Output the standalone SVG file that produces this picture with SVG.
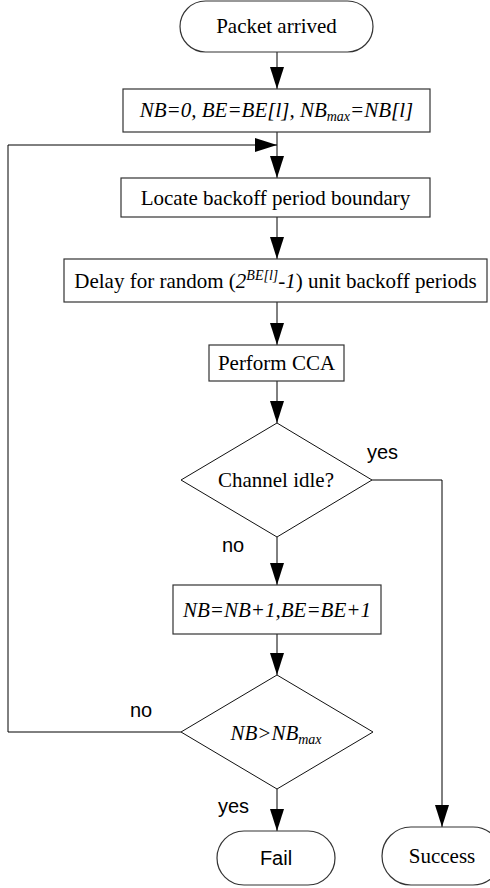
<svg xmlns="http://www.w3.org/2000/svg" width="490" height="888" viewBox="0 0 490 888">
  <defs>
    <marker id="arrow" markerUnits="userSpaceOnUse" markerWidth="22" markerHeight="14" refX="22" refY="7" orient="auto">
      <path d="M0,0 L22,7 L0,14 Z" fill="#000"/>
    </marker>
  </defs>
  <style>
    .box{fill:#fff;stroke:#333;stroke-width:1.2}
    .dia{fill:#fff;stroke:#111;stroke-width:1}
    .t{font-family:"Liberation Serif","Times New Roman",serif;font-size:21px;fill:#000;text-anchor:middle}
    .i{font-style:italic}
    .lbl{font-family:"Liberation Sans",Arial,sans-serif;font-size:20px;fill:#000}
    .ln{fill:none;stroke:#000;stroke-width:1}
  </style>
  <rect width="490" height="888" fill="#fff"/>

  <!-- connectors -->
  <g id="connectors">
    <line class="ln" x1="277" y1="52" x2="277" y2="89" marker-end="url(#arrow)"/>
    <line class="ln" x1="277" y1="132" x2="277" y2="178" marker-end="url(#arrow)"/>
    <polyline class="ln" points="181,732 8,732 8,145 277,145" marker-end="url(#arrow)"/>
    <line class="ln" x1="277" y1="217" x2="277" y2="259" marker-end="url(#arrow)"/>
    <line class="ln" x1="277" y1="302" x2="277" y2="345" marker-end="url(#arrow)"/>
    <line class="ln" x1="277" y1="381" x2="277" y2="423" marker-end="url(#arrow)"/>
    <polyline class="ln" points="372,480 442,480 442,827" marker-end="url(#arrow)"/>
    <line class="ln" x1="277" y1="537" x2="277" y2="585" marker-end="url(#arrow)"/>
    <line class="ln" x1="277" y1="634" x2="277" y2="675" marker-end="url(#arrow)"/>
    <line class="ln" x1="277" y1="789" x2="277" y2="831" marker-end="url(#arrow)"/>
    <text class="lbl" x="367" y="459">yes</text>
    <text class="lbl" x="222" y="552">no</text>
    <text class="lbl" x="130" y="717">no</text>
    <text class="lbl" x="218" y="813">yes</text>
  </g>

  <g id="start">
    <rect class="box" x="180" y="1" width="193" height="51" rx="25.5"/>
    <text class="t" x="276.5" y="33">Packet arrived</text>
  </g>

  <g id="init">
    <rect class="box" x="123" y="89" width="307" height="43"/>
    <text class="t i" x="276.5" y="117">NB=0, BE=BE[l], NB<tspan font-size="14" dy="4">max</tspan><tspan dy="-4">=NB[l]</tspan></text>
  </g>

  <g id="locate">
    <rect class="box" x="121" y="178" width="309" height="39"/>
    <text class="t" x="275.5" y="205">Locate backoff period boundary</text>
  </g>

  <g id="delay">
    <rect class="box" x="64" y="259" width="423" height="43"/>
    <text class="t" x="275.5" y="288">Delay for random (<tspan class="i">2</tspan><tspan class="i" font-size="14" dy="-8">BE[l]</tspan><tspan class="i" dy="8">-1</tspan>) unit backoff periods</text>
  </g>

  <g id="cca">
    <rect class="box" x="209" y="345" width="135" height="36"/>
    <text class="t" x="276.5" y="370">Perform CCA</text>
  </g>

  <g id="idle">
    <polygon class="dia" points="277,423 372,480 277,537 181,480"/>
    <text class="t" x="276" y="487">Channel idle?</text>
  </g>

  <g id="increment">
    <rect class="box" x="173" y="585" width="208" height="49"/>
    <text class="t i" x="277" y="617">NB=NB+1,BE=BE+1</text>
  </g>

  <g id="check">
    <polygon class="dia" points="277,675 373,732 277,789 181,732"/>
    <text class="t i" x="276" y="740">NB&gt;NB<tspan font-size="14" dy="4">max</tspan></text>
  </g>

  <g id="fail">
    <rect class="box" x="217" y="831" width="118" height="54" rx="27"/>
    <text class="lbl" x="276" y="865" text-anchor="middle">Fail</text>
  </g>

  <g id="success">
    <rect class="box" x="382" y="827" width="120" height="58" rx="29"/>
    <text class="t" x="442" y="863">Success</text>
  </g>
</svg>
